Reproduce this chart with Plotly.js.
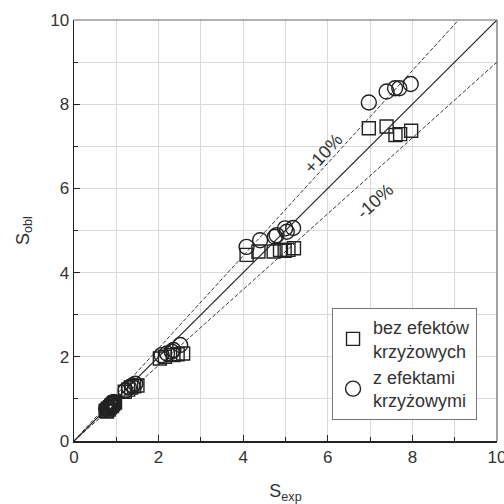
<!DOCTYPE html>
<html><head><meta charset="utf-8">
<script src="https://cdn.plot.ly/plotly-3.0.1.min.js"></script>
<style>html,body{margin:0;padding:0;background:#fff}#g{width:504px;height:504px}</style>
</head><body><div id="g"></div>
<script>
// bez efektów krzyżowych (squares)
const sqX = [0.75,0.78,0.80,0.82,0.85,0.88,0.90,0.92,0.95,0.97, 1.20,1.28,1.35,1.42,1.50, 2.03,2.15,2.35,2.45,2.58, 4.08,4.36,4.72,4.87,4.98,5.07,5.20, 6.97,7.39,7.60,7.71,7.97];
const sqY = [0.72,0.70,0.77,0.75,0.80,0.84,0.83,0.88,0.90,0.92, 1.17,1.22,1.27,1.30,1.32, 1.96,2.00,2.04,2.06,2.08, 4.42,4.50,4.50,4.54,4.52,4.54,4.58, 7.43,7.47,7.27,7.29,7.37];
// z efektami krzyżowymi (circles)
const ciX = [0.76,0.80,0.82,0.86,0.88,0.90,0.94, 1.22,1.30,1.38,1.45, 2.07,2.20,2.31,2.35,2.51, 4.08,4.40,4.75,4.79,4.99,5.03,5.18, 6.97,7.39,7.59,7.69,7.96];
const ciY = [0.76,0.78,0.80,0.85,0.86,0.88,0.93, 1.20,1.27,1.32,1.36, 2.04,2.08,2.12,2.16,2.28, 4.61,4.77,4.85,4.89,5.05,4.97,5.06, 8.04,8.30,8.38,8.38,8.48];
const lineX = [0, 10];
const factors = [1.0, 1.1, 0.9];
const legendNames = ['bez efektów<br>krzyżowych', 'z efektami<br>krzyżowymi'];

const ink = '#222';
const traces = [];
factors.forEach((f, i) => {
  traces.push({x: lineX, y: lineX.map(v => v * f), mode: 'lines', showlegend: false, hoverinfo: 'skip',
    line: {color: ink, width: i === 0 ? 1.2 : 0.9, dash: i === 0 ? 'solid' : '4px,2px'}});
});
traces.push({x: sqX, y: sqY, mode: 'markers', name: legendNames[0], cliponaxis: false,
  marker: {symbol: 'square-open', size: 13, color: ink, line: {width: 1.4, color: ink}}});
traces.push({x: ciX, y: ciY, mode: 'markers', name: legendNames[1], cliponaxis: false,
  marker: {symbol: 'circle-open', size: 15, color: ink, line: {width: 1.4, color: ink}}});

const fam = 'Liberation Sans, Arial, sans-serif';
const tickFnt = {family: fam, size: 17, color: '#333'};
const titleFnt = {family: fam, size: 18, color: '#333'};
const legFnt = {family: fam, size: 18, color: '#333'};
const axisBase = {range: [0, 10], dtick: 2, tick0: 0, ticks: 'inside', ticklen: 6, tickcolor: ink, tickwidth: 1,
  showline: true, linecolor: ink, linewidth: 1.5, mirror: false, showgrid: true, gridcolor: '#d9d9d9', gridwidth: 1,
  zeroline: false, tickfont: tickFnt, fixedrange: true, ticklabeloverflow: 'allow',
  minor: {dtick: 1, ticks: 'inside', ticklen: 4, tickcolor: ink, showgrid: true, gridcolor: '#d9d9d9', gridwidth: 1}};

const layout = {
  width: 504, height: 504, margin: {l: 74, r: 7, t: 20, b: 63},
  paper_bgcolor: '#fff', plot_bgcolor: '#fff', font: tickFnt,
  xaxis: Object.assign({}, axisBase, {title: {text: 'S<sub>exp</sub>', font: titleFnt, standoff: 20}}),
  yaxis: Object.assign({}, axisBase, {title: {text: 'S<sub>obl</sub>', font: titleFnt, standoff: 16}}),
  showlegend: true,
  legend: {x: 0.61, y: 0.316, xanchor: 'left', yanchor: 'top', bgcolor: '#fff', bordercolor: '#777', borderwidth: 1,
    font: legFnt, tracegroupgap: 2},
  shapes: [
    {type: 'line', xref: 'paper', yref: 'paper', x0: 0, x1: 1, y0: 1, y1: 1, line: {color: '#666', width: 1.2}, layer: 'above'},
    {type: 'line', xref: 'paper', yref: 'paper', x0: 1, x1: 1, y0: 0, y1: 1, line: {color: '#666', width: 1.2}, layer: 'above'}
  ],
  annotations: [
    {x: 5.91, y: 6.84, xref: 'x', yref: 'y', text: '+10%', showarrow: false, textangle: -47, font: titleFnt},
    {x: 7.12, y: 5.70, xref: 'x', yref: 'y', text: '-10%', showarrow: false, textangle: -42, font: titleFnt}
  ]
};
Plotly.newPlot('g', traces, layout, {staticPlot: true, displayModeBar: false});
</script></body></html>
